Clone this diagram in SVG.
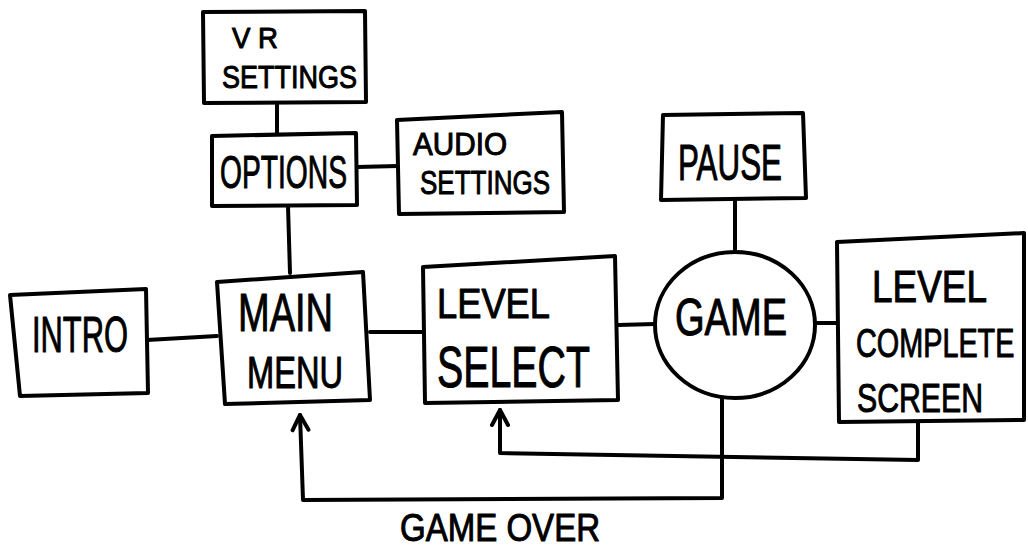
<svg xmlns="http://www.w3.org/2000/svg" width="1028" height="548" viewBox="0 0 1028 548">
  <style>
    .box { fill: #ffffff; stroke: #000000; stroke-width: 4; stroke-linejoin: round; stroke-linecap: round; }
    .wire { fill: none; stroke: #000000; stroke-width: 4; stroke-linejoin: round; stroke-linecap: round; }
    .lbl { font-family: "Liberation Sans", "DejaVu Sans", Arial, sans-serif; fill: #000000; stroke: #000000; stroke-width: 1; stroke-linejoin: round; }
  </style>
  <defs>
    <marker id="arrow" markerUnits="userSpaceOnUse" orient="auto" refX="0" refY="0" markerWidth="30" markerHeight="30" overflow="visible">
      <path d="M -15,-8 L 0,0 L -15,8" fill="none" stroke="#000000" stroke-width="4" stroke-linecap="round" stroke-linejoin="round"/>
    </marker>
  </defs>
  <rect x="0" y="0" width="1028" height="548" fill="#ffffff"/>

  <g id="connectors">
    <path class="wire" d="M 277,102 L 277,135"/>
    <path class="wire" d="M 357,167 L 398,166"/>
    <path class="wire" d="M 288,206 L 290,273"/>
    <path class="wire" d="M 147,340 L 217,336"/>
    <path class="wire" d="M 370,332 L 423,332"/>
    <path class="wire" d="M 618,325 L 655,324"/>
    <path class="wire" d="M 735,199 L 735,252"/>
    <path class="wire" d="M 815,323 L 838,323"/>
    <path class="wire" d="M 722,398 L 722,498 L 303,500 L 300,415" marker-end="url(#arrow)"/>
    <path class="wire" d="M 918,422 L 918,460 L 500,453 L 500,410" marker-end="url(#arrow)"/>
  </g>

  <g id="node-vr-settings">
    <polygon class="box" points="203,12 365,11 366,102 204,103"/>
    <text class="lbl" x="232" y="48" font-size="29" textLength="46" lengthAdjust="spacingAndGlyphs">V R</text>
    <text class="lbl" x="222" y="88" font-size="32" textLength="135" lengthAdjust="spacingAndGlyphs">SETTINGS</text>
  </g>

  <g id="node-options">
    <polygon class="box" points="212,136 356,133 357,205 212,206"/>
    <text class="lbl" x="220" y="188" font-size="46" textLength="127" lengthAdjust="spacingAndGlyphs">OPTIONS</text>
  </g>

  <g id="node-audio-settings">
    <polygon class="box" points="397,120 562,112 564,212 399,214"/>
    <text class="lbl" x="413" y="155" font-size="31" textLength="94" lengthAdjust="spacingAndGlyphs">AUDIO</text>
    <text class="lbl" x="420" y="194" font-size="34" textLength="130" lengthAdjust="spacingAndGlyphs">SETTINGS</text>
  </g>

  <g id="node-intro">
    <polygon class="box" points="10,295 146,289 148,393 20,396"/>
    <text class="lbl" x="32" y="352" font-size="50" textLength="96" lengthAdjust="spacingAndGlyphs">INTRO</text>
  </g>

  <g id="node-main-menu">
    <polygon class="box" points="217,282 363,272 370,400 225,404"/>
    <text class="lbl" x="238" y="331" font-size="54" textLength="95" lengthAdjust="spacingAndGlyphs">MAIN</text>
    <text class="lbl" x="247" y="388" font-size="44" textLength="96" lengthAdjust="spacingAndGlyphs">MENU</text>
  </g>

  <g id="node-level-select">
    <polygon class="box" points="423,267 615,256 618,400 425,403"/>
    <text class="lbl" x="437" y="318" font-size="42" textLength="113" lengthAdjust="spacingAndGlyphs">LEVEL</text>
    <text class="lbl" x="437" y="387" font-size="58" textLength="153" lengthAdjust="spacingAndGlyphs">SELECT</text>
  </g>

  <g id="node-pause">
    <polygon class="box" points="663,115 803,113 806,198 661,200"/>
    <text class="lbl" x="678" y="180" font-size="50" textLength="104" lengthAdjust="spacingAndGlyphs">PAUSE</text>
  </g>

  <g id="node-game">
    <ellipse class="box" cx="735" cy="325" rx="80" ry="73"/>
    <text class="lbl" x="675" y="335" font-size="52" textLength="112" lengthAdjust="spacingAndGlyphs">GAME</text>
  </g>

  <g id="node-level-complete">
    <polygon class="box" points="837,242 1024,233 1024,420 839,422"/>
    <text class="lbl" x="872" y="302" font-size="44" textLength="115" lengthAdjust="spacingAndGlyphs">LEVEL</text>
    <text class="lbl" x="0" y="0" font-size="40" transform="translate(856,357) scale(0.72,1)">COMPLETE</text>
    <text class="lbl" x="857" y="412" font-size="40" textLength="126" lengthAdjust="spacingAndGlyphs">SCREEN</text>
  </g>

  <g id="label-game-over">
    <text class="lbl" x="400" y="541" font-size="38" textLength="200" lengthAdjust="spacingAndGlyphs">GAME OVER</text>
  </g>
</svg>
